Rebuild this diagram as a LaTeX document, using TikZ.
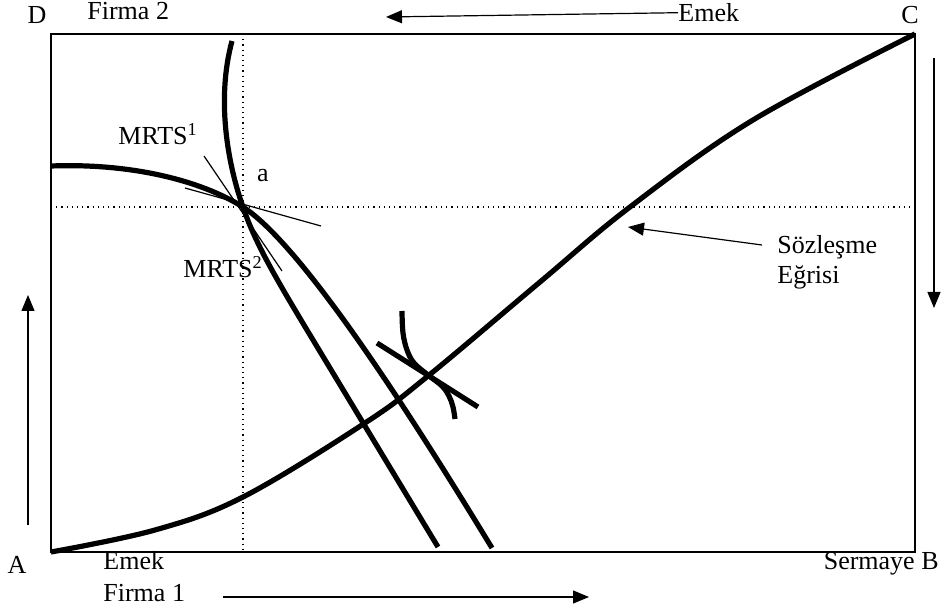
\documentclass[tikz,border=0pt]{standalone}
\usepackage{fontspec}
\setmainfont{Liberation Serif}
\usetikzlibrary{arrows.meta,positioning,calc}

\begin{document}
\begin{tikzpicture}[x=0.5pt,y=-0.5pt,font=\fontsize{13}{15.2}\selectfont,
  lbl/.style={inner sep=0pt,anchor=mid west},
  isoq/.style={line width=2.6pt},
  tanln/.style={line width=0.6pt},
  dirarr/.style={line width=0.6pt,-{Triangle[length=8pt,width=6.5pt]}},
  guide/.style={dotted,line width=0.6pt}]
\useasboundingbox (0,0) rectangle (944,615);
% corners of the box
\coordinate (A) at (51,552);
\coordinate (B) at (915,552);
\coordinate (C) at (915,34);
\coordinate (D) at (51,34);
\coordinate (a) at (243,207);
\draw[line width=0.7pt] (A) rectangle (C);
\draw[guide] (a |- D) -- (a |- A);
\draw[guide] (a -| A) -- (a -| B);
% corner and axis labels
\node[inner sep=0pt] (labD) at (37,15) {D};
\node[inner sep=0pt] (labC) at (910,15) {C};
\node[inner sep=0pt] (labA) at (17,565) {A};
\node[lbl] (labFirmaTwo) at (87,15) {Firma 2};
\node[lbl] (labEmekTop) at (678,17) {Emek};
\node[lbl] (labEmekBot) at (103,565) {Emek};
\node[lbl] (labFirmaOne) at (103,597) {Firma 1};
\node[inner sep=0pt,anchor=mid east] (labSermaye) at (939,565) {Sermaye B};
% direction arrows
\coordinate (topTip) at (386,17);
\coordinate (botTail) at (223,597);
\coordinate (botTip) at (589,597);
\coordinate (leftTail) at (28,525);
\coordinate (leftTip) at (28,295);
\coordinate (rightTail) at (934,58);
\coordinate (rightTip) at (934,308);
\draw[dirarr] (labEmekTop.west) -- (topTip);
\draw[dirarr] (botTail) -- (botTip);
\draw[dirarr] (leftTail) -- (leftTip);
\draw[dirarr] (rightTail) -- (rightTip);
% contract curve
\draw[isoq] plot[smooth,tension=0.6] coordinates {(A) (155,530) (243,497) (365,423) (428,376) (540,282) (630,207) (753,120) (C)};
% isoquants through a
\draw[isoq] (232,41) .. controls (216,100) and (228,165) .. (a)
  .. controls (255,243) and (277,280) .. (307,330) -- (438,547);
\draw[isoq] (51,166) .. controls (130,163) and (200,180) .. (a)
  .. controls (300,244) and (402,400) .. (492,548);
% isoquants at the second point
\draw[isoq] plot[smooth,tension=0.6] coordinates {(402,311) (403,333) (407,350) (414,363) (428,375) (442,386) (449,396) (453,407) (455,419)};
\draw[isoq] (377,343) -- (478,407);
% MRTS lines
\draw[tanln] (204,156) -- (282,271);
\draw[tanln] (185,188) -- (321,226);
\node[lbl] (labMrtsOne) at (118,140) {MRTS\textsuperscript{1}};
\node[lbl] (labMrtsTwo) at (183,273) {MRTS\textsuperscript{2}};
\node[inner sep=0pt] (laba) at (263,176) {a};
% contract curve label
\node[inner sep=0pt,anchor=west,align=left] (labSoz) at (777,262) {Sözleşme\\Eğrisi};
\coordinate (sozTail) at (762,245);
\coordinate (sozTip) at (628,227);
\draw[dirarr] (sozTail) -- (sozTip);
\end{tikzpicture}
\end{document}
